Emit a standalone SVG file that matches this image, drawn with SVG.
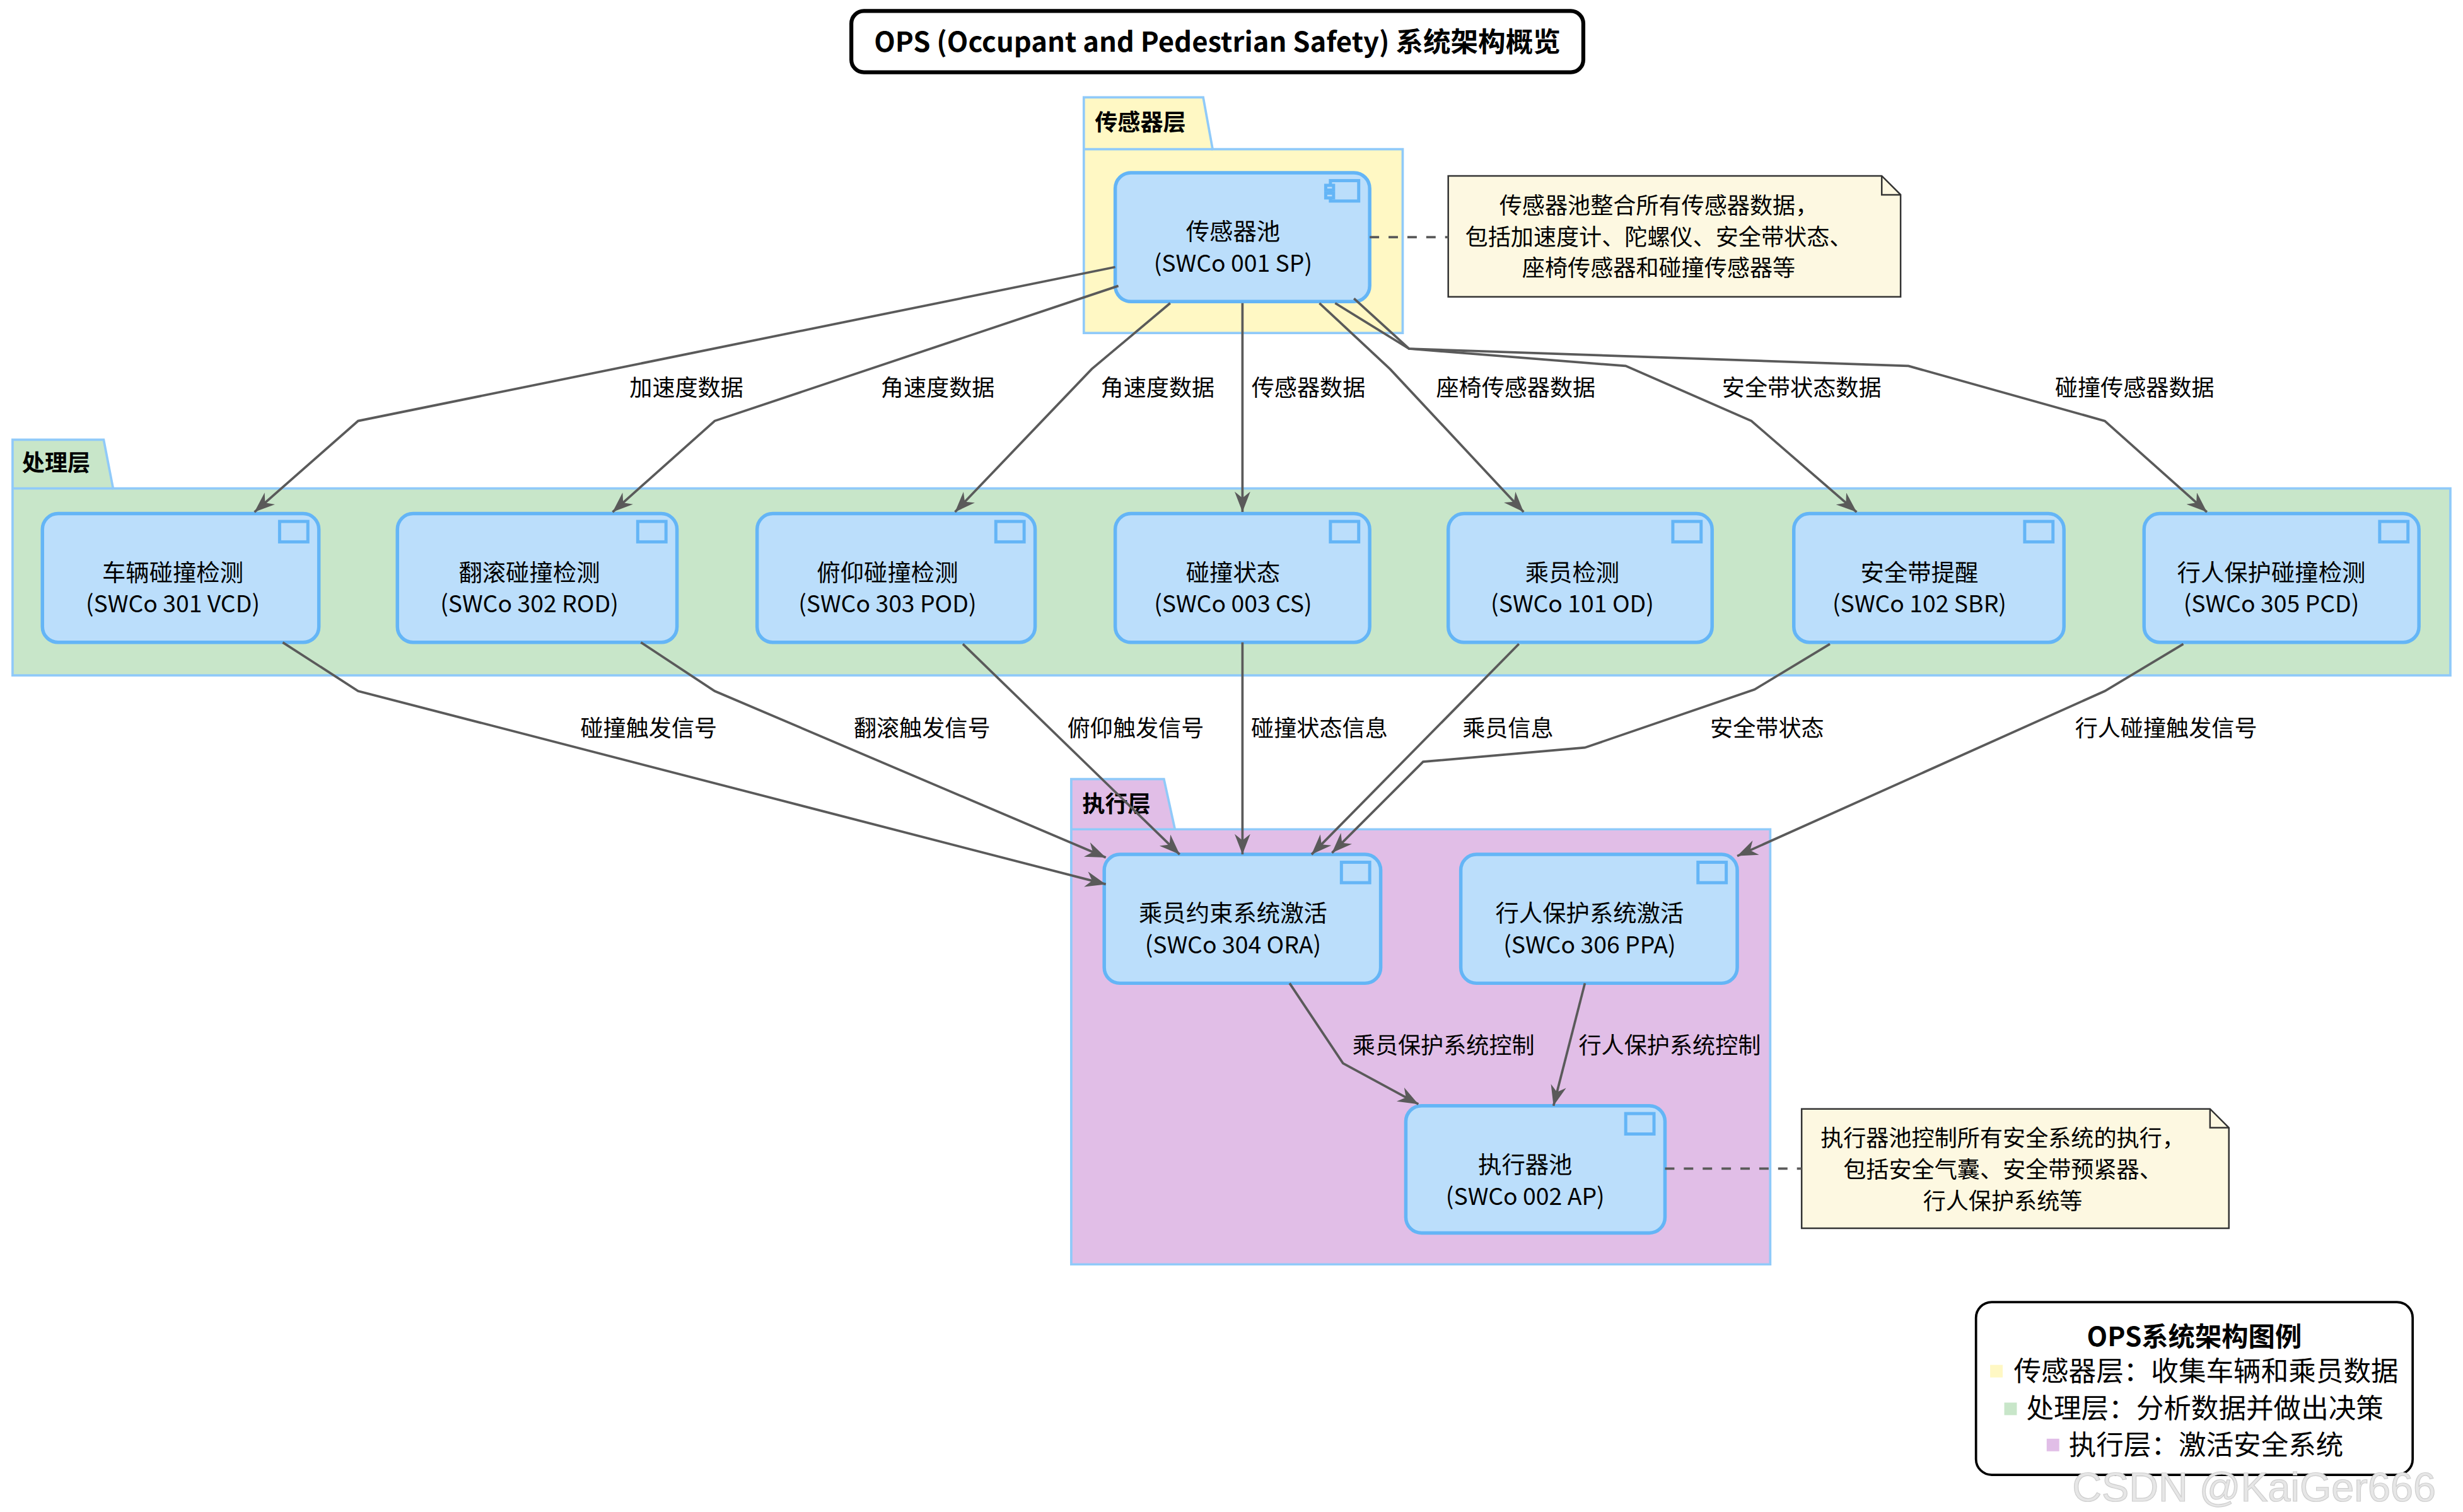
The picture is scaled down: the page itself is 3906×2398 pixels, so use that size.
<svg xmlns="http://www.w3.org/2000/svg" width="3906" height="2398" viewBox="0 0 3906 2398">
<style>
text{font-family:"Noto Sans CJK SC","Liberation Sans",sans-serif;fill:#000}
.pkgY{fill:#FFF8C4;stroke:#90CAF9;stroke-width:1.5}
.pkgG{fill:#C8E6C9;stroke:#90CAF9;stroke-width:1.5}
.pkgP{fill:#E1BEE7;stroke:#90CAF9;stroke-width:1.5}
.pt{font-size:14.5px;font-weight:bold}
.node{fill:#BBDEFB;stroke:#64B5F6;stroke-width:2.2}
.ic{fill:#BBDEFB;stroke:#64B5F6;stroke-width:2}
.nt{font-size:15px;text-anchor:middle}
.e{fill:none;stroke:#5a5a5a;stroke-width:1.5}
.d{fill:none;stroke:#5a5a5a;stroke-width:1.5;stroke-dasharray:6 6}
.lb{font-size:14.5px;text-anchor:middle}
.note{fill:#FDF8E1;stroke:#333;stroke-width:1}
</style>
<defs>
<marker id="ah" markerUnits="userSpaceOnUse" markerWidth="14" markerHeight="12" refX="13" refY="5" orient="auto"><path d="M0,0 L13,5 L0,10 L4,5 z" fill="#5a5a5a"/></marker>
</defs>
<rect width="3906" height="2398" fill="#fff"/>
<g transform="scale(2.491)">
<g id="title"><rect x="542" y="7" width="466" height="39" rx="8" fill="#fff" stroke="#000" stroke-width="2.5"/><text x="775" y="33" font-size="17.5" font-weight="bold" text-anchor="middle">OPS (Occupant and Pedestrian Safety) 系统架构概览</text></g>

<g id="pkg-sensor"><path class="pkgY" d="M690,62 H766 L772,95 H893 V212 H690 Z"/><line x1="690" y1="95" x2="772" y2="95" stroke="#90CAF9" stroke-width="1.5"/><text class="pt" x="697" y="83">传感器层</text></g>
<g id="pkg-proc"><path class="pkgG" d="M8,280 H66 L72,311 H1560 V430 H8 Z"/><line x1="8" y1="311" x2="72" y2="311" stroke="#90CAF9" stroke-width="1.5"/><text class="pt" x="14" y="300">处理层</text></g>
<g id="pkg-exec"><path class="pkgP" d="M682,496 H741 L748,528 H1127 V805 H682 Z"/><line x1="682" y1="528" x2="748" y2="528" stroke="#90CAF9" stroke-width="1.5"/><text class="pt" x="689" y="517">执行层</text></g>

<g id="n-sp"><rect class="node" x="710" y="110" width="162" height="82" rx="10"/><rect class="ic" x="847" y="115" width="18" height="13"/><rect class="ic" x="844" y="118" width="5" height="3"/><rect class="ic" x="844" y="123" width="5" height="3"/><text class="nt" x="785" y="153">传感器池</text><text class="nt" x="785" y="173">(SWCo 001 SP)</text></g>

<g id="n-vcd"><rect class="node" x="27" y="327" width="176" height="82" rx="10"/><rect class="ic" x="178" y="332" width="18" height="13"/><text class="nt" x="110" y="370">车辆碰撞检测</text><text class="nt" x="110" y="390">(SWCo 301 VCD)</text></g>
<g id="n-rod"><rect class="node" x="253" y="327" width="178" height="82" rx="10"/><rect class="ic" x="406" y="332" width="18" height="13"/><text class="nt" x="337" y="370">翻滚碰撞检测</text><text class="nt" x="337" y="390">(SWCo 302 ROD)</text></g>
<g id="n-pod"><rect class="node" x="482" y="327" width="177" height="82" rx="10"/><rect class="ic" x="634" y="332" width="18" height="13"/><text class="nt" x="565" y="370">俯仰碰撞检测</text><text class="nt" x="565" y="390">(SWCo 303 POD)</text></g>
<g id="n-cs"><rect class="node" x="710" y="327" width="162" height="82" rx="10"/><rect class="ic" x="847" y="332" width="18" height="13"/><text class="nt" x="785" y="370">碰撞状态</text><text class="nt" x="785" y="390">(SWCo 003 CS)</text></g>
<g id="n-od"><rect class="node" x="922" y="327" width="168" height="82" rx="10"/><rect class="ic" x="1065" y="332" width="18" height="13"/><text class="nt" x="1001" y="370">乘员检测</text><text class="nt" x="1001" y="390">(SWCo 101 OD)</text></g>
<g id="n-sbr"><rect class="node" x="1142" y="327" width="172" height="82" rx="10"/><rect class="ic" x="1289" y="332" width="18" height="13"/><text class="nt" x="1222" y="370">安全带提醒</text><text class="nt" x="1222" y="390">(SWCo 102 SBR)</text></g>
<g id="n-pcd"><rect class="node" x="1365" y="327" width="175" height="82" rx="10"/><rect class="ic" x="1515" y="332" width="18" height="13"/><text class="nt" x="1446" y="370">行人保护碰撞检测</text><text class="nt" x="1446" y="390">(SWCo 305 PCD)</text></g>

<g id="n-ora"><rect class="node" x="703" y="544" width="176" height="82" rx="10"/><rect class="ic" x="854" y="549" width="18" height="13"/><text class="nt" x="785" y="587">乘员约束系统激活</text><text class="nt" x="785" y="607">(SWCo 304 ORA)</text></g>
<g id="n-ppa"><rect class="node" x="930" y="544" width="176" height="82" rx="10"/><rect class="ic" x="1081" y="549" width="18" height="13"/><text class="nt" x="1012" y="587">行人保护系统激活</text><text class="nt" x="1012" y="607">(SWCo 306 PPA)</text></g>
<g id="n-ap"><rect class="node" x="895" y="704" width="165" height="81" rx="10"/><rect class="ic" x="1035" y="709" width="18" height="13"/><text class="nt" x="971" y="747">执行器池</text><text class="nt" x="971" y="767">(SWCo 002 AP)</text></g>

<g id="note1"><path class="note" d="M922,112 H1198 L1210,124 V189 H922 Z"/><path d="M1198,112 V124 H1210" fill="none" stroke="#333"/><text class="lb" x="1056" y="136">传感器池整合所有传感器数据，</text><text class="lb" x="1056" y="156">包括加速度计、陀螺仪、安全带状态、</text><text class="lb" x="1056" y="176">座椅传感器和碰撞传感器等</text></g>
<g id="note2"><path class="note" d="M1147,706 H1407 L1419,718 V782 H1147 Z"/><path d="M1407,706 V718 H1419" fill="none" stroke="#333"/><text class="lb" x="1275" y="730">执行器池控制所有安全系统的执行，</text><text class="lb" x="1275" y="750">包括安全气囊、安全带预紧器、</text><text class="lb" x="1275" y="770">行人保护系统等</text></g>

<g id="legend"><rect x="1258" y="829" width="278" height="110" rx="10" fill="#fff" stroke="#000" stroke-width="1.5"/>
<text x="1397" y="857" font-size="17" font-weight="bold" text-anchor="middle">OPS系统架构图例</text>
<rect x="1267" y="869" width="8" height="8" fill="#FFF8C4"/><text x="1282" y="879" font-size="17.5">传感器层：收集车辆和乘员数据</text>
<rect x="1276" y="893" width="8" height="8" fill="#C8E6C9"/><text x="1290" y="903" font-size="17.5">处理层：分析数据并做出决策</text>
<rect x="1303" y="916" width="8" height="8" fill="#E1BEE7"/><text x="1317" y="926" font-size="17.5">执行层：激活安全系统</text></g>

<g id="connectors">
<path class="d" d="M872,151 H922"/>
<path class="d" d="M1060,744 H1147"/>
<path class="e" marker-end="url(#ah)" d="M710,170 L228,268 L162,326"/>
<path class="e" marker-end="url(#ah)" d="M712,182 L455,268 L390,326"/>
<path class="e" marker-end="url(#ah)" d="M745,193 L695,235 L608,326"/>
<path class="e" marker-end="url(#ah)" d="M791,193 L791,326"/>
<path class="e" marker-end="url(#ah)" d="M840,193 L885,235 L970,326"/>
<path class="e" marker-end="url(#ah)" d="M850,193 L897,222 L1035,233 L1115,268 L1182,326"/>
<path class="e" marker-end="url(#ah)" d="M862,190 L897,222 L1215,233 L1340,268 L1405,326"/>
<path class="e" marker-end="url(#ah)" d="M180,409 L228,440 L704,563"/>
<path class="e" marker-end="url(#ah)" d="M408,409 L455,440 L704,546"/>
<path class="e" marker-end="url(#ah)" d="M613,410 L751,544"/>
<path class="e" marker-end="url(#ah)" d="M791,409 L791,544"/>
<path class="e" marker-end="url(#ah)" d="M967,410 L835,544"/>
<path class="e" marker-end="url(#ah)" d="M1165,410 L1117,439 L1009,476 L906,485 L848,543"/>
<path class="e" marker-end="url(#ah)" d="M1390,410 L1340,440 L1106,545"/>
<path class="e" marker-end="url(#ah)" d="M821,626 L855,677 L903,703"/>
<path class="e" marker-end="url(#ah)" d="M1009,626 L989,704"/>
<text class="lb" x="437" y="252">加速度数据</text>
<text class="lb" x="597" y="252">角速度数据</text>
<text class="lb" x="737" y="252">角速度数据</text>
<text class="lb" x="833" y="252">传感器数据</text>
<text class="lb" x="965" y="252">座椅传感器数据</text>
<text class="lb" x="1147" y="252">安全带状态数据</text>
<text class="lb" x="1359" y="252">碰撞传感器数据</text>
<text class="lb" x="413" y="469">碰撞触发信号</text>
<text class="lb" x="587" y="469">翻滚触发信号</text>
<text class="lb" x="723" y="469">俯仰触发信号</text>
<text class="lb" x="840" y="469">碰撞状态信息</text>
<text class="lb" x="960" y="469">乘员信息</text>
<text class="lb" x="1125" y="469">安全带状态</text>
<text class="lb" x="1379" y="469">行人碰撞触发信号</text>
<text class="lb" x="919" y="671">乘员保护系统控制</text>
<text class="lb" x="1063" y="671">行人保护系统控制</text>
</g>
<text x="1435" y="956" font-size="26" text-anchor="middle" style="font-family:'Liberation Sans',sans-serif;fill:#e6e6e6;stroke:#cfcfcf;stroke-width:0.5">CSDN @KaiGer666</text>
</g>
</svg>
